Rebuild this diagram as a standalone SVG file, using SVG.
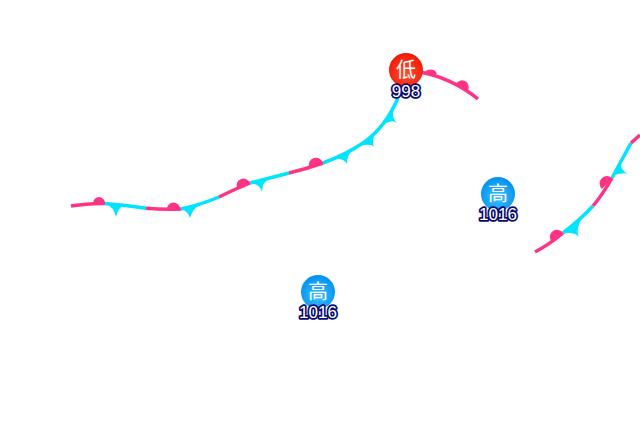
<svg xmlns="http://www.w3.org/2000/svg" width="640" height="440" viewBox="0 0 640 440">
<style>
.w{fill:none;stroke:#ff3385;stroke-width:3.5}
.c{fill:none;stroke:#00e5ff;stroke-width:3.5}
.wb{fill:#ff3385}
.cb{fill:#00e5ff}
.sym{font-family:"Noto Sans CJK SC","Noto Sans",sans-serif;font-size:20px;fill:#fff;text-anchor:middle}
.val{font-family:"Liberation Sans",Arial,sans-serif;font-size:17px;fill:#fff;stroke:#0a0a6e;stroke-width:3.5px;paint-order:stroke;stroke-linejoin:round;text-anchor:middle}
</style>
<defs>
<radialGradient id="lo" cx="50%" cy="60%" r="60%"><stop offset="0" stop-color="#ff5030"/><stop offset="1" stop-color="#f01808"/></radialGradient>
<radialGradient id="hi" cx="50%" cy="60%" r="60%"><stop offset="0" stop-color="#40c0ff"/><stop offset="1" stop-color="#0090f0"/></radialGradient>
</defs>
<g id="connectors">
<path class="w" d="M71 206Q90 203 105 203.500"/>
<path class="c" d="M105 203.500Q126 205 146 208.300"/>
<path class="w" d="M146 208.300Q165 210 181 209"/>
<path class="c" d="M181 209Q200 205 219 197"/>
<path class="w" d="M219 197Q235 189 250 183"/>
<path class="c" d="M250 183Q270 178 289 173"/>
<path class="w" d="M289 173Q306 169 323 163"/>
<path class="c" d="M323 163Q345 155 363 143Q385 128 398 98"/>
<path class="w" d="M420 72Q452 78 478 99"/>
<path class="w" d="M535 252Q550 244 563 233"/>
<path class="c" d="M563 233Q580 220 593 206"/>
<path class="w" d="M593 206Q603 194 612 178"/>
<path class="c" d="M612 178L631 143"/>
<path class="w" d="M631 143L640 135"/>
<path class="wb" d="M93 203.500A6 6.500 0 0 1 105 203.500Z"/>
<path class="wb" d="M167 209A6.500 6.500 0 0 1 180 209Z"/>
<path class="wb" d="M237 188A6.500 6.500 0 0 1 250 183Z"/>
<path class="wb" d="M309 167A6.500 6.500 0 0 1 323 163Z"/>
<path class="wb" d="M424 74A7 7 0 0 1 437 74Z"/>
<path class="wb" d="M456 84A6.500 6.500 0 0 1 468 90Z"/>
<path class="wb" d="M551 241A6.500 6.500 0 0 1 563 233Z"/>
<path class="wb" d="M612 178A6.500 6.500 0 0 0 602 189Z"/>
<path class="cb" d="M105 203Q114 207 116 217Q118 208 124 205Z"/>
<path class="cb" d="M181 209Q188 211 190 218Q193 208 200 205Z"/>
<path class="cb" d="M250 183Q260 184 262 192Q262 182 270 178Z"/>
<path class="cb" d="M333 159Q344 158 347 164Q346 156 354 149Z"/>
<path class="cb" d="M359 146Q371 143 374 147Q371 141 376 132Z"/>
<path class="cb" d="M384 124Q393 119 397 123Q391 118 394 108Z"/>
<path class="cb" d="M563 233Q575 232 579 237Q575 230 582 218Z"/>
<path class="cb" d="M612 176Q622 172 628 174Q620 170 620 160Z"/>
</g>
<g id="low"><circle cx="406" cy="70" r="17" fill="url(#lo)"/><text class="sym" x="406" y="77">低</text><text class="val" x="406" y="97">998</text></g>
<g id="high1"><circle cx="498" cy="194" r="17" fill="url(#hi)"/><text class="sym" x="498" y="201">高</text><text class="val" x="498" y="220">1016</text></g>
<g id="high2"><circle cx="318" cy="292" r="17" fill="url(#hi)"/><text class="sym" x="318" y="299">高</text><text class="val" x="318" y="318">1016</text></g>
</svg>
